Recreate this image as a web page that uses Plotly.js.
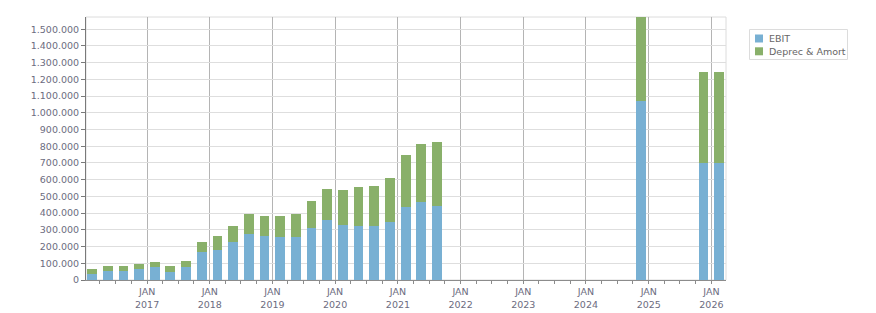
<!DOCTYPE html>
<html>
<head>
<meta charset="utf-8">
<script src="https://cdn.plot.ly/plotly-3.0.1.min.js"></script>
<style>
  html, body { margin: 0; padding: 0; background: #fff; }
  #chart { width: 876px; height: 313px; }
</style>
</head>
<body>
<div id="chart"></div>
<script>
// Quarter start dates (bars are drawn at the middle of each quarter)
const quarters = [
  '2016-01-01','2016-04-01','2016-07-01','2016-10-01',
  '2017-01-01','2017-04-01','2017-07-01','2017-10-01',
  '2018-01-01','2018-04-01','2018-07-01','2018-10-01',
  '2019-01-01','2019-04-01','2019-07-01','2019-10-01',
  '2020-01-01','2020-04-01','2020-07-01','2020-10-01',
  '2021-01-01','2021-04-01','2021-07-01',
  '2024-10-01','2025-10-01','2026-01-01'
];
const ebit = [
  38000, 54000, 54000, 66000,
  78000, 50000, 76000, 169000,
  181000, 229000, 277000, 265000,
  257000, 257000, 313000, 361000,
  329000, 325000, 325000, 349000,
  436000, 468000, 444000,
  1068000, 697000, 697000
];
const deprecAmort = [
  30000, 32000, 32000, 32000,
  32000, 36000, 40000, 60000,
  84000, 96000, 119000, 120000,
  128000, 139000, 161000, 185000,
  211000, 233000, 239000, 263000,
  309000, 343000, 379000,
  505000, 550000, 550000
];
const seriesNames = ['EBIT', 'Deprec & Amort'];
const seriesColors = ['#78b0d3', '#89b06a'];
const tickYears = ['2017','2018','2019','2020','2021','2022','2023','2024','2025','2026'];

const FONT = 'DejaVu Sans, Verdana, sans-serif';
const TXT = '#6c6c80';
const M = {l: 86, r: 150, t: 17, b: 33};
const W = 876 - M.l - M.r, H = 313 - M.t - M.b;
const px2x = p => (p - M.l) / W;
const px2y = p => (M.t + H - p) / H;

const barWidth = 57 * 24 * 3600 * 1000;
const seriesValues = [ebit, deprecAmort];
const traces = seriesNames.map((name, i) => ({
  type: 'bar',
  name: name,
  x: quarters,
  y: seriesValues[i],
  xperiod: 'M3',
  xperiodalignment: 'middle',
  width: barWidth,
  marker: {color: seriesColors[i], line: {width: 0}},
  hoverinfo: 'x+y+name'
}));

const maxTotal = Math.max(...ebit.map((v, i) => v + deprecAmort[i]));

// custom legend (shapes + annotations)
const legendShapes = [{
  type: 'rect', xref: 'paper', yref: 'paper',
  x0: px2x(749.5), x1: px2x(847.5), y0: px2y(59.5), y1: px2y(29.5),
  line: {color: '#dcdcdc', width: 1}, fillcolor: 'rgba(255,255,255,0)'
}];
const legendAnn = [];
seriesNames.forEach((name, i) => {
  const cy = 38.5 + i * 12.8;
  legendShapes.push({
    type: 'rect', xref: 'paper', yref: 'paper',
    x0: px2x(755), x1: px2x(763), y0: px2y(cy + 4), y1: px2y(cy - 4),
    line: {width: 0}, fillcolor: seriesColors[i]
  });
  legendAnn.push({
    xref: 'paper', yref: 'paper', x: px2x(766.5), y: px2y(cy),
    xanchor: 'left', yanchor: 'middle', showarrow: false,
    text: name, font: {family: FONT, size: 9.5, color: '#666666'}
  });
});

const layout = {
  width: 876, height: 313,
  margin: M,
  paper_bgcolor: '#ffffff', plot_bgcolor: '#ffffff',
  barmode: 'stack',
  showlegend: false,
  separators: ',.',
  font: {family: FONT, size: 9.5, color: TXT},
  xaxis: {
    type: 'date',
    range: ['2016-01-11', '2026-03-27'],
    tickmode: 'array',
    tickvals: tickYears.map(y => y + '-01-01'),
    ticktext: tickYears.map(y => 'JAN<br>' + y),
    showgrid: true, gridcolor: '#b4b4b4', gridwidth: 1,
    showline: true, linecolor: '#8c8c8c', linewidth: 1,
    ticks: 'outside', ticklen: 3, tickcolor: '#8c8c8c',
    minor: {dtick: 'M3', tick0: '2016-01-01', ticks: 'outside', ticklen: 3, tickcolor: '#8c8c8c', showgrid: false},
    tickfont: {family: FONT, size: 9.5, color: TXT},
    zeroline: false, fixedrange: true
  },
  yaxis: {
    range: [0, maxTotal],
    tickmode: 'linear', tick0: 0, dtick: 100000,
    tickformat: ',d',
    showgrid: true, gridcolor: '#dedede', gridwidth: 1,
    showline: true, linecolor: '#7a7a7a', linewidth: 1,
    ticks: 'outside', ticklen: 4, tickcolor: '#7a7a7a',
    tickfont: {family: FONT, size: 9.5, color: TXT},
    zeroline: false, fixedrange: true
  },
  shapes: [{
    type: 'rect', xref: 'paper', yref: 'paper', x0: 0, x1: 1, y0: 0, y1: 1,
    line: {color: '#dcdcdc', width: 1}, layer: 'below'
  }].concat(legendShapes),
  annotations: legendAnn
};

Plotly.newPlot('chart', traces, layout, {displayModeBar: false, staticPlot: true});
</script>
</body>
</html>
